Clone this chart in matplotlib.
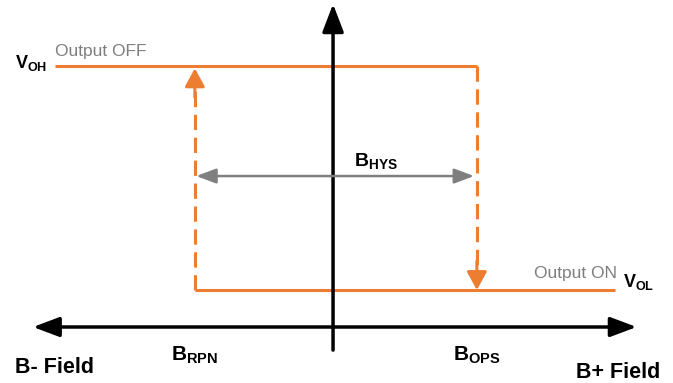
import matplotlib
matplotlib.use("Agg")
import matplotlib.pyplot as plt

plt.rcParams['font.family'] = ['Liberation Sans', 'DejaVu Sans']
plt.rcParams['mathtext.fontset'] = 'custom'
plt.rcParams['mathtext.bf'] = 'Liberation Sans:bold'
plt.rcParams['mathtext.rm'] = 'Liberation Sans'

# switching thresholds (field units) and output levels
b_rpn = -0.98
b_ops = 1.02
v_ol = 0.0
v_oh = 1.0
field_min, field_max = -1.97, 2.0

# axes geometry of the sketch
axis_left, axis_right = -2.128, 2.153
axis_y = -0.165
vaxis_bottom, vaxis_top = -0.268, 1.277
hys_level = 0.509

orange = '#ED7D31'
gray = '#7F7F7F'

fig = plt.figure(figsize=(6.73, 3.83), dpi=100)
ax = fig.add_axes([0, 0, 1, 1])
ax.set_xlim(-2.362, 2.411)
ax.set_ylim(-0.415, 1.295)
ax.axis('off')

# field axis and output axis
black_head = dict(arrowstyle='-|>,head_length=1.6,head_width=0.6',
                  color='black', lw=2.5, shrinkA=0, shrinkB=0)
ax.annotate('', xy=(axis_left, axis_y), xytext=(0, axis_y), arrowprops=black_head)
ax.annotate('', xy=(axis_right, axis_y), xytext=(0, axis_y), arrowprops=black_head)
ax.annotate('', xy=(0, vaxis_top), xytext=(0, vaxis_bottom),
            arrowprops=dict(black_head, arrowstyle='-|>,head_length=1.7,head_width=0.65'))

# hysteresis loop
ax.plot([field_min, b_ops], [v_oh, v_oh], color=orange, lw=2.2, solid_capstyle='butt')
ax.plot([b_rpn, field_max], [v_ol, v_ol], color=orange, lw=2.2, solid_capstyle='butt')
ax.plot([b_ops, b_ops], [v_oh, v_ol + 0.1], color=orange, lw=2.2, ls=(0, (5, 2.5)))
ax.plot([b_rpn, b_rpn], [v_ol, v_oh - 0.1], color=orange, lw=2.2, ls=(0, (5, 2.5)))
orange_head = dict(arrowstyle='-|>,head_length=1.1,head_width=0.6',
                   color=orange, lw=2.2, shrinkA=0, shrinkB=0)
ax.annotate('', xy=(b_ops, v_ol), xytext=(b_ops, v_ol + 0.13), arrowprops=orange_head)
ax.annotate('', xy=(b_rpn, v_oh - 0.01), xytext=(b_rpn, v_oh - 0.14), arrowprops=orange_head)

# hysteresis width
ax.annotate('', xy=(b_rpn + 0.01, hys_level), xytext=(b_ops - 0.02, hys_level),
            arrowprops=dict(arrowstyle='<|-|>,head_length=1.2,head_width=0.45',
                            color=gray, lw=1.8, shrinkA=0, shrinkB=0))

# labels
ax.text(-2.03, 0.99, r'$\mathbf{V}_{\mathbf{OH}}$', fontsize=13, ha='right', va='baseline')
ax.text(field_min, 1.045, 'Output OFF', fontsize=12.5, color=gray, ha='left', va='baseline')
ax.text(2.014, 0.054, 'Output ON', fontsize=12.5, color=gray, ha='right', va='baseline')
ax.text(2.057, 0.013, r'$\mathbf{V}_{\mathbf{OL}}$', fontsize=13, ha='left', va='baseline')
ax.text(0.305, 0.549, r'$\mathbf{B}_{\mathbf{HYS}}$', fontsize=14, ha='center', va='baseline')
ax.text(b_rpn, -0.315, r'$\mathbf{B}_{\mathbf{RPN}}$', fontsize=15, ha='center', va='baseline')
ax.text(b_ops, -0.315, r'$\mathbf{B}_{\mathbf{OPS}}$', fontsize=15, ha='center', va='baseline')
ax.text(-2.255, -0.371, 'B- Field', fontsize=15.5, fontweight='bold', ha='left', va='baseline')
ax.text(2.319, -0.393, 'B+ Field', fontsize=15.5, fontweight='bold', ha='right', va='baseline')

fig.savefig('out.png', dpi=100)
